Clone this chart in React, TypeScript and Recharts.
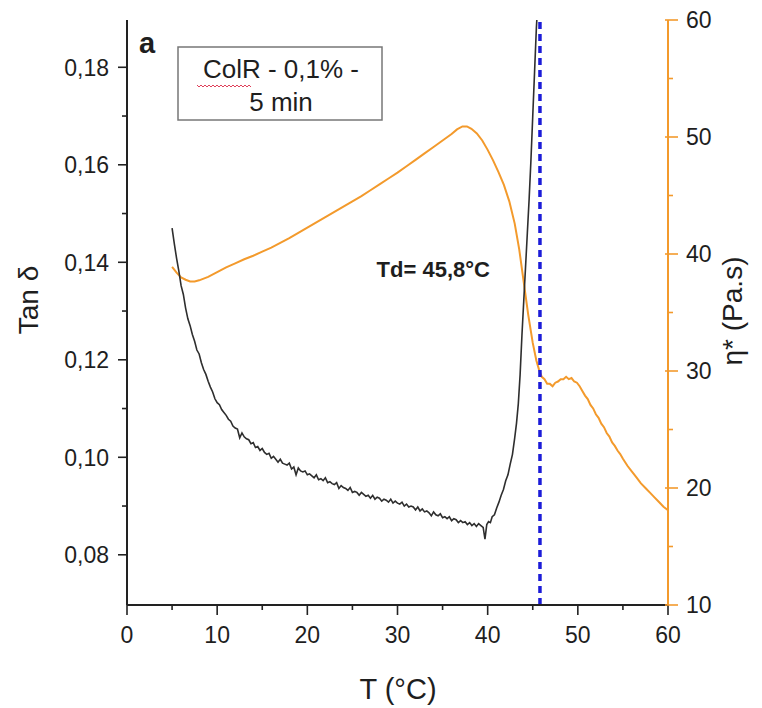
import React from 'react';
import { LineChart, Line, XAxis, YAxis, ReferenceLine, Customized } from 'recharts';

// Tan δ (left axis) vs T
const tanT = [
  5.0, 5.25, 5.5, 5.75, 6.0, 6.25, 6.5, 6.75, 7.0, 7.25, 7.5, 7.75, 8.0, 8.25, 8.5, 8.75, 9.0, 9.25, 9.5, 9.75,
  10.0, 10.25, 10.5, 10.75, 11.0, 11.25, 11.5, 11.75, 12.0, 12.25, 12.5, 12.75, 13.0, 13.25, 13.5, 13.75,
  14.0, 14.25, 14.5, 14.75, 15.0, 15.25, 15.5, 15.75, 16.0, 16.25, 16.5, 16.75, 17.0, 17.25, 17.5, 17.75,
  18.0, 18.25, 18.5, 18.75, 19.0, 19.25, 19.5, 19.75, 20.0, 20.25, 20.5, 20.75, 21.0, 21.25, 21.5, 21.75,
  22.0, 22.25, 22.5, 22.75, 23.0, 23.25, 23.5, 23.75, 24.0, 24.25, 24.5, 24.75, 25.0, 25.25, 25.5, 25.75,
  26.0, 26.25, 26.5, 26.75, 27.0, 27.25, 27.5, 27.75, 28.0, 28.25, 28.5, 28.75, 29.0, 29.25, 29.5, 29.75,
  30.0, 30.25, 30.5, 30.75, 31.0, 31.25, 31.5, 31.75, 32.0, 32.25, 32.5, 32.75, 33.0, 33.25, 33.5, 33.75,
  34.0, 34.25, 34.5, 34.75, 35.0, 35.25, 35.5, 35.75, 36.0, 36.25, 36.5, 36.75, 37.0, 37.25, 37.5, 37.75,
  38.0, 38.25, 38.5, 38.75, 39.0, 39.25, 39.5, 39.7, 39.9, 40.1, 40.3, 40.5, 40.75, 41.0, 41.25, 41.5, 41.75,
  42.0, 42.25, 42.5, 42.75, 43.0, 43.2, 43.4, 43.6, 43.8, 44.0, 44.2, 44.4, 44.6, 44.8, 45.0, 45.2, 45.4, 45.55,
];
const tanV = [
  0.1470, 0.1438, 0.1408, 0.1382, 0.1352, 0.1334, 0.1306, 0.1284, 0.1270, 0.1252, 0.1238, 0.1220, 0.1212, 0.1194, 0.1180, 0.1170, 0.1156, 0.1144, 0.1134, 0.1120,
  0.1112, 0.1108, 0.1098, 0.1092, 0.1086, 0.1078, 0.1074, 0.1064, 0.1060, 0.1058, 0.1040, 0.1050, 0.1042, 0.1038, 0.1036, 0.1028,
  0.1030, 0.1020, 0.1022, 0.1014, 0.1018, 0.1010, 0.1006, 0.1008, 0.0998, 0.1002, 0.0996, 0.0990, 0.0996, 0.0988, 0.0986, 0.0984,
  0.0988, 0.0976, 0.0980, 0.0964, 0.0978, 0.0972, 0.0970, 0.0972, 0.0964, 0.0966, 0.0962, 0.0958, 0.0964, 0.0954, 0.0956, 0.0952,
  0.0958, 0.0948, 0.0950, 0.0946, 0.0944, 0.0948, 0.0936, 0.0942, 0.0938, 0.0936, 0.0932, 0.0938, 0.0928, 0.0930, 0.0928, 0.0922,
  0.0928, 0.0924, 0.0920, 0.0922, 0.0916, 0.0922, 0.0914, 0.0918, 0.0916, 0.0910, 0.0914, 0.0912, 0.0908, 0.0914, 0.0906, 0.0910,
  0.0906, 0.0904, 0.0908, 0.0900, 0.0904, 0.0898, 0.0900, 0.0898, 0.0892, 0.0898, 0.0890, 0.0894, 0.0888, 0.0890, 0.0886, 0.0880,
  0.0888, 0.0882, 0.0880, 0.0884, 0.0876, 0.0878, 0.0874, 0.0878, 0.0870, 0.0874, 0.0872, 0.0866, 0.0870, 0.0866, 0.0868, 0.0862,
  0.0866, 0.0860, 0.0864, 0.0858, 0.0864, 0.0860, 0.0856, 0.0832, 0.0862, 0.0868, 0.0866, 0.0878, 0.0882, 0.0896, 0.0908, 0.0922, 0.0934,
  0.0952, 0.0964, 0.0986, 0.1006, 0.1040, 0.1070, 0.1110, 0.1170, 0.1250, 0.1320, 0.1390, 0.1460, 0.1530, 0.1610, 0.1700, 0.1790, 0.1880, 0.1930,
];

// η* (right axis) vs T
const etaT = [
  5.0, 5.5, 6.0, 6.5, 7.0, 7.5, 8.0, 9.0, 10.0, 11.0, 12.0, 13.0, 14.0, 15.0, 16.0, 17.0, 18.0, 19.0, 20.0,
  21.0, 22.0, 23.0, 24.0, 25.0, 26.0, 27.0, 28.0, 29.0, 30.0, 31.0, 32.0, 33.0, 34.0, 35.0, 36.0, 36.6, 37.2,
  37.7, 38.2, 38.8, 39.4, 40.0, 40.6, 41.2, 41.8, 42.4, 43.0, 43.5, 44.0, 44.5, 45.0, 45.4, 45.7, 46.0, 46.3,
  46.6, 46.9, 47.2, 47.5, 47.8, 48.1, 48.4, 48.7, 49.0, 49.3, 49.6, 49.9, 50.2, 50.5, 50.8, 51.1, 51.4, 51.7,
  52.0, 52.3, 52.6, 52.9, 53.2, 53.5, 53.8, 54.1, 54.4, 54.7, 55.0, 55.5, 56.0, 56.5, 57.0, 57.5, 58.0, 58.5,
  59.0, 59.5, 60.0,
];
const etaV = [
  38.9, 38.4, 38.0, 37.8, 37.65, 37.65, 37.75, 38.05, 38.45, 38.85, 39.2, 39.55, 39.85, 40.2, 40.55, 40.95, 41.35, 41.8, 42.25,
  42.7, 43.15, 43.6, 44.05, 44.5, 44.95, 45.45, 45.95, 46.45, 46.95, 47.5, 48.05, 48.6, 49.15, 49.7, 50.25, 50.65, 50.9,
  50.9, 50.7, 50.3, 49.7, 48.9, 48.0, 47.0, 45.9, 44.5, 42.6, 40.4, 37.6, 34.8, 32.4, 30.9, 30.1, 29.5, 29.3,
  28.9, 28.9, 28.7, 29.0, 29.1, 29.3, 29.3, 29.5, 29.3, 29.4, 29.1, 29.0, 28.7, 28.3, 27.9, 27.6, 27.1, 26.8,
  26.3, 26.0, 25.5, 25.2, 24.7, 24.4, 23.9, 23.6, 23.2, 22.9, 22.5, 21.9, 21.4, 20.9, 20.4, 20.0, 19.6, 19.2,
  18.8, 18.4, 18.1,
];

const xTicks = [0, 5, 10, 15, 20, 25, 30, 35, 40, 45, 50, 55, 60];
const xMajor = [0, 10, 20, 30, 40, 50, 60];
const leftTicks = [0.08, 0.09, 0.10, 0.11, 0.12, 0.13, 0.14, 0.15, 0.16, 0.17, 0.18];
const leftMajor = [0.08, 0.10, 0.12, 0.14, 0.16, 0.18];
const rightTicks = [10, 15, 20, 25, 30, 35, 40, 45, 50, 55, 60];
const rightMajor = [10, 20, 30, 40, 50, 60];
const tdValue = 45.8;
const tdText = 'Td= 45,8°C';
const xTitle = 'T (°C)';
const leftTitle = 'Tan δ';
const rightTitle = 'η* (Pa.s)';
const panelLetter = 'a';
const boxLine1 = 'ColR - 0,1% -';
const boxLine2 = '5 min';

const tanData = tanT.map((t, i) => ({ T: t, tan: tanV[i] }));
const etaData = etaT.map((t, i) => ({ T: t, eta: etaV[i] }));

const FONT = '"Liberation Sans", Arial, sans-serif';
const TEXT = '#1e1e1e';
const AXIS = '#222';
const ORANGE = '#F39A2C';
const BLUE = '#1c1cd8';

const fmtLeft = (v: number) => v.toFixed(2).replace('.', ',');

const LeftTick = (props: any) => {
  const { x, y, payload } = props;
  const major = leftMajor.includes(payload.value);
  return (
    <g>
      <line x1={x} x2={x - (major ? 9 : 5)} y1={y} y2={y} stroke={AXIS} strokeWidth={1.6} />
      {major && (
        <text x={x - 18} y={y} dy="0.36em" textAnchor="end" fontSize={23} fill={TEXT} fontFamily={FONT}>
          {fmtLeft(payload.value)}
        </text>
      )}
    </g>
  );
};

const RightTick = (props: any) => {
  const { x, y, payload } = props;
  const major = rightMajor.includes(payload.value);
  return (
    <g>
      <line x1={x - (major ? 3 : 0)} x2={x + (major ? 10 : 5)} y1={y} y2={y} stroke={ORANGE} strokeWidth={1.6} />
      {major && (
        <text x={x + 18} y={y} dy="0.36em" textAnchor="start" fontSize={23} fill={TEXT} fontFamily={FONT}>
          {payload.value}
        </text>
      )}
    </g>
  );
};

const BottomTick = (props: any) => {
  const { x, y, payload } = props;
  const major = xMajor.includes(payload.value);
  return (
    <g>
      <line x1={x} x2={x} y1={y} y2={y + (major ? 10 : 5)} stroke={AXIS} strokeWidth={1.6} />
      {major && (
        <text x={x} y={y + 30} dy="0.36em" textAnchor="middle" fontSize={23} fill={TEXT} fontFamily={FONT}>
          {payload.value}
        </text>
      )}
    </g>
  );
};

const TdLabel = (props: any) => {
  const vb = props.viewBox || {};
  return (
    <text x={vb.x - 50} y={vb.y + 257} textAnchor="end" fontSize={22} fontWeight="bold" fill={TEXT} fontFamily={FONT}>
      {tdText}
    </text>
  );
};

const Annotations = () => (
  <g fontFamily={FONT}>
    <text x={139} y={53} fontSize={29} fontWeight="bold" fill={TEXT}>{panelLetter}</text>
    <rect x={178} y={47} width={204} height={73} fill="#fff" stroke="#777" strokeWidth={1.5} />
    <text x={281} y={78} textAnchor="middle" fontSize={26} fill={TEXT}>{boxLine1}</text>
    <text x={281} y={111} textAnchor="middle" fontSize={26} fill={TEXT}>{boxLine2}</text>
    <polyline
      points="197,85 199,87 201,85 203,87 205,85 207,87 209,85 211,87 213,85 215,87 217,85 219,87 221,85 223,87 225,85 227,87 229,85 231,87 233,85 235,87 237,85 239,87 241,85 243,87 245,85 247,87 249,85 251,87"
      fill="none"
      stroke="#e0405a"
      strokeWidth={1}
    />
    <text x={398} y={699} textAnchor="middle" fontSize={29} fill={TEXT}>{xTitle}</text>
    <text x={38} y={300} textAnchor="middle" fontSize={28} fill={TEXT} transform="rotate(-90 38 300)">{leftTitle}</text>
    <text x={742} y={311} textAnchor="middle" fontSize={28} fill={TEXT} transform="rotate(-90 742 311)">{rightTitle}</text>
  </g>
);

export default function App() {
  return (
    <div style={{ position: 'absolute', left: 0, top: 0, width: 762, height: 708, background: '#fff' }}>
      <LineChart width={762} height={708} margin={{ top: 20, right: 0, bottom: 0, left: 0 }}>
        <XAxis
          xAxisId="bottom"
          dataKey="T"
          type="number"
          domain={[0, 60]}
          ticks={xTicks}
          interval={0}
          tickSize={0}
          tickMargin={0}
          tickLine={false}
          tick={<BottomTick />}
          axisLine={{ stroke: AXIS, strokeWidth: 2 }}
          height={103}
          allowDataOverflow
        />
        <XAxis
          xAxisId="top"
          orientation="top"
          type="number"
          domain={[0, 60]}
          tick={false}
          tickLine={false}
          axisLine={{ stroke: '#444', strokeWidth: 1.6 }}
          height={0}
        />
        <YAxis
          yAxisId="left"
          orientation="left"
          type="number"
          domain={[0.0697, 0.1897]}
          allowDataOverflow
          ticks={leftTicks}
          interval={0}
          tickSize={0}
          tickMargin={0}
          tickLine={false}
          tick={<LeftTick />}
          axisLine={{ stroke: AXIS, strokeWidth: 2 }}
          width={127}
        />
        <YAxis
          yAxisId="right"
          orientation="right"
          type="number"
          domain={[10, 60]}
          allowDataOverflow
          ticks={rightTicks}
          interval={0}
          tickSize={0}
          tickMargin={0}
          tickLine={false}
          tick={<RightTick />}
          axisLine={{ stroke: ORANGE, strokeWidth: 2 }}
          width={94}
        />
        <Line
          data={etaData}
          xAxisId="bottom"
          yAxisId="right"
          dataKey="eta"
          type="linear"
          stroke={ORANGE}
          strokeWidth={2}
          dot={false}
          activeDot={false}
          isAnimationActive={false}
        />
        <Line
          data={tanData}
          xAxisId="bottom"
          yAxisId="left"
          dataKey="tan"
          type="linear"
          stroke="#2e2e2e"
          strokeWidth={1.6}
          dot={false}
          activeDot={false}
          isAnimationActive={false}
        />
        <ReferenceLine
          x={tdValue}
          xAxisId="bottom"
          yAxisId="left"
          stroke={BLUE}
          strokeWidth={3.5}
          strokeDasharray="7 5"
          label={(p: any) => <TdLabel {...p} />}
        />
        <Customized component={Annotations} />
      </LineChart>
    </div>
  );
}
